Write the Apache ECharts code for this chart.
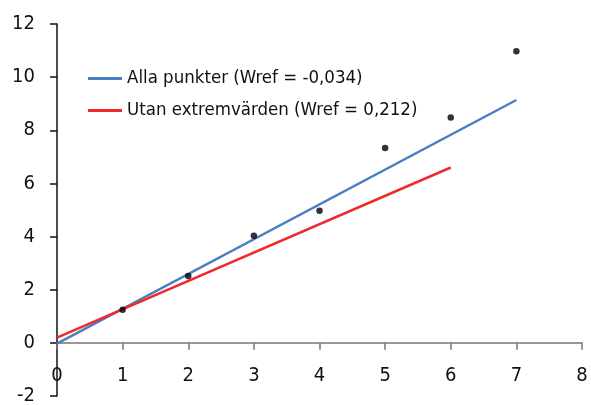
<!DOCTYPE html>
<html><head><meta charset="utf-8">
<script src="https://cdn.jsdelivr.net/npm/echarts@6/dist/echarts.min.js"></script>
<style>html,body{margin:0;padding:0;background:#fff}#c{width:591px;height:405px}</style>
</head><body><div id="c"></div>
<script>
const points = [[1,1.25],[2,2.52],[3,4.03],[4,4.97],[5,7.33],[6,8.48],[7,10.97]];
const blueLine = [[0,-0.03],[7,9.14]];
const redLine = [[0,0.2],[6,6.6]];
const blueName = 'Alla punkter (Wref = -0,034)';
const redName = 'Utan extremvärden (Wref = 0,212)';
const FONT = '"DejaVu Sans Condensed", sans-serif';
const GRID_TOP = 24, GRID_BOTTOM = 9, H = 405;
const Y_MIN = -2, Y_MAX = 12;
const plotH = H - GRID_TOP - GRID_BOTTOM;
const xAxisOffset = -plotH * (0 - Y_MIN) / (Y_MAX - Y_MIN);
const chart = echarts.init(document.getElementById('c'), null, {renderer:'canvas'});
chart.setOption({
  animation:false,
  textStyle:{fontFamily:FONT},
  grid:{left:57,right:9,top:GRID_TOP,bottom:GRID_BOTTOM,containLabel:false,outerBoundsMode:'none'},
  legend:{
    orient:'vertical', left:83, top:64, itemWidth:34, itemHeight:3, itemGap:13, icon:'rect',
    textStyle:{fontFamily:FONT, fontSize:18.5, color:'#111'},
    data:[blueName, redName]
  },
  xAxis:{type:'value',min:0,max:8,interval:1,offset:xAxisOffset,
    axisLine:{onZero:false,lineStyle:{color:'#777',width:1.5}},
    axisTick:{show:true,inside:false,length:7,lineStyle:{color:'#777',width:1.5}},
    axisLabel:{fontFamily:FONT,fontSize:20,color:'#111',margin:23},
    splitLine:{show:false}},
  yAxis:{type:'value',min:Y_MIN,max:Y_MAX,interval:2,
    axisLine:{show:true,onZero:false,lineStyle:{color:'#111',width:1.5}},
    axisTick:{show:true,length:7,lineStyle:{color:'#111',width:1.5}},
    axisLabel:{fontFamily:FONT,fontSize:20,color:'#111',margin:22},
    splitLine:{show:false}},
  series:[
    {name:blueName,type:'line',data:blueLine,showSymbol:false,symbol:'none',
      lineStyle:{color:'#4a7fc4',width:2.5},itemStyle:{color:'#4a7fc4'},z:2},
    {name:redName,type:'line',data:redLine,showSymbol:false,symbol:'none',
      lineStyle:{color:'#ee2b2b',width:2.5},itemStyle:{color:'#ee2b2b'},z:3},
    {type:'scatter',data:points,symbol:'circle',symbolSize:6.5,itemStyle:{color:'#000'},z:5}
  ]
});
</script></body></html>
